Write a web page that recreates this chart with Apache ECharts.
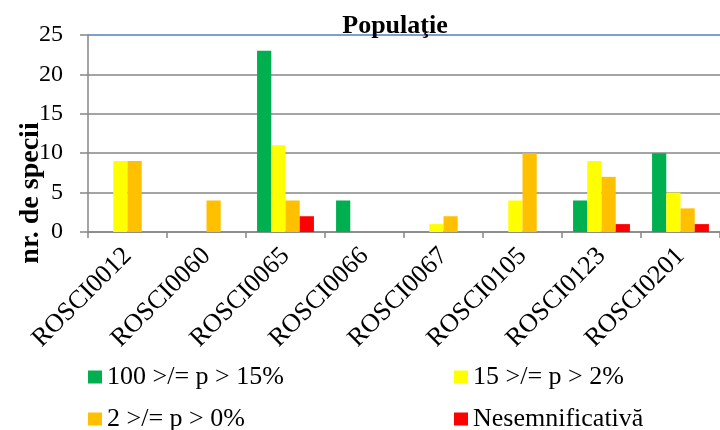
<!DOCTYPE html>
<html>
<head>
<meta charset="utf-8">
<script src="https://cdn.jsdelivr.net/npm/echarts@6/dist/echarts.min.js"></script>
<style>html,body{margin:0;padding:0;background:#fff}#c{width:720px;height:430px}</style>
</head>
<body>
<div id="c"></div>
<script>
var categories = ['ROSCI0012','ROSCI0060','ROSCI0065','ROSCI0066','ROSCI0067','ROSCI0105','ROSCI0123','ROSCI0201'];
var seriesNames = ['100 >/= p > 15%','15 >/= p > 2%','2 >/= p > 0%','Nesemnificativă'];
var high   = [0, 0, 23, 4, 0, 0, 4, 10];
var medium = [9, 0, 11, 0, 1, 4, 9, 5];
var low    = [9, 4, 4, 0, 2, 10, 7, 3];
var insig  = [0, 0, 2, 0, 0, 0, 1, 1];
var colors = ['#00B050','#FFFF00','#FFC000','#FF0000'];
var yTicks = [0, 5, 10, 15, 20, 25];
var titleText = 'Populaţie';
var yName = 'nr. de specii';

var serif = '"Liberation Serif", "Times New Roman", serif';
var values = [high, medium, low, insig];
var chart = echarts.init(document.getElementById('c'), null, {renderer:'canvas'});
var series = values.map(function(v, i){
  return {
    name: seriesNames[i], type: 'bar', data: v,
    barGap: '0%', barCategoryGap: '28%',
    itemStyle: {color: colors[i]},
    emphasis: {disabled: true}
  };
});
var legendPos = [[88, 364], [454, 364], [88, 406], [454, 406]];
var legendOrder = [0, 1, 2, 3];
var legends = legendOrder.map(function(si, k){
  return {data: [seriesNames[si]], left: legendPos[k][0], top: legendPos[k][1], padding: 0,
    itemWidth: 14, itemHeight: 13, icon: 'rect', selectedMode: false,
    textStyle: {fontFamily: serif, fontSize: 26, color: '#000'}};
});
chart.setOption({
  animation: false,
  backgroundColor: '#fff',
  title: {
    text: titleText, left: 390, top: 8, textAlign: 'center',
    textStyle: {fontFamily: serif, fontWeight: 'bold', fontSize: 26, color: '#000'}
  },
  grid: {left: 88, right: 0, top: 35, bottom: 198, containLabel: false},
  xAxis: {
    type: 'category', data: categories,
    axisLine: {lineStyle: {color: '#868686', width: 1.5}},
    axisTick: {show: true, length: 6, lineStyle: {color: '#868686', width: 1.5}},
    axisLabel: {interval: 0, rotate: 45, margin: 20, fontFamily: serif, fontSize: 26, color: '#000'}
  },
  yAxis: {
    type: 'value', min: yTicks[0], max: yTicks[yTicks.length-1], interval: 5,
    axisLine: {show: true, lineStyle: {color: '#868686', width: 1.5}},
    axisTick: {show: true, length: 8, lineStyle: {color: '#868686', width: 1.5}},
    axisLabel: {margin: 25, fontFamily: serif, fontSize: 24, color: '#000'},
    splitLine: {show: true, lineStyle: {color: ['#868686','#868686','#868686','#868686','#868686','#4F81BD'], width: 1.5}}
  },
  legend: legends,
  graphic: [{
    type: 'text', x: 31, y: 193, rotation: Math.PI/2,
    style: {text: yName, fontFamily: serif, fontWeight: 'bold', fontSize: 28, fill: '#000',
      textAlign: 'center', textVerticalAlign: 'middle'}
  }],
  series: series
});
</script>
</body>
</html>
